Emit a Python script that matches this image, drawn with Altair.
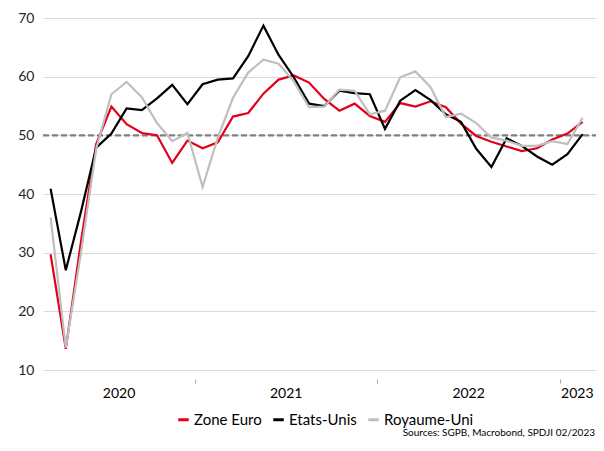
import altair as alt
import pandas as pd

# ---- data (monthly composite PMI, March 2020 -> February 2023) ----
months = pd.date_range("2020-03-01", periods=36, freq="MS")
zone_euro = [29.7, 13.6, 31.9, 48.5, 54.9, 51.9, 50.4, 50.0, 45.3, 49.1,
             47.8, 48.8, 53.2, 53.8, 57.1, 59.5, 60.2, 59.0, 56.2, 54.2, 55.4, 53.3,
             52.3, 55.5, 54.9, 55.8, 54.8, 52.0, 49.9, 48.9, 48.1, 47.3, 47.8, 49.3,
             50.3, 52.3]
etats_unis = [40.9, 27.0, 37.0, 47.9, 50.3, 54.6, 54.3, 56.3, 58.6, 55.3,
              58.7, 59.5, 59.7, 63.5, 68.7, 63.7, 59.9, 55.4, 55.0, 57.6, 57.2, 57.0,
              51.1, 55.9, 57.7, 56.0, 53.6, 52.3, 47.7, 44.6, 49.5, 48.2, 46.4, 45.0,
              46.8, 50.2]
royaume_uni = [36.0, 13.8, 30.0, 47.7, 57.0, 59.1, 56.5, 52.1, 49.0, 50.4,
               41.2, 49.6, 56.4, 60.7, 62.9, 62.2, 59.2, 54.8, 54.9, 57.8, 57.6, 53.6,
               54.2, 59.9, 60.9, 58.2, 53.1, 53.7, 52.1, 49.6, 49.1, 48.2, 48.2, 49.0,
               48.5, 53.0]
series_names = ["Zone Euro", "Etats-Unis", "Royaume-Uni"]
series_colors = ["#E2001A", "#000000", "#BFBFBF"]
years = ["2020", "2021", "2022", "2023"]
year_label_pos = [4.5, 15.5, 27.5, 34.65]
year_boundaries = [9.5, 21.5, 33.5]
y_ticks = [10, 20, 30, 40, 50, 60, 70]
threshold = [50]
source_text = "Sources: SGPB, Macrobond, SPDJI 02/2023"

FONT = "Lato"
PLOT_W = 553
PLOT_H = 352

rows = []
for name, vals in zip(series_names, [zone_euro, etats_unis, royaume_uni]):
    for i, (m, v) in enumerate(zip(months, vals)):
        rows.append({"t": i, "month": m.strftime("%Y-%m"), "series": name, "v": v})
df = pd.DataFrame(rows)
years_df = pd.DataFrame({"t": year_label_pos, "year": years})
thr_df = pd.DataFrame({"v": threshold})
src_df = pd.DataFrame({"txt": [source_text]})

x_scale = alt.Scale(domain=[-0.5, 35.88], nice=False, zero=False)
y_scale = alt.Scale(domain=[10, 70], nice=False, zero=False)
x_axis = alt.Axis(values=year_boundaries, labels=False, domain=False, grid=False,
                  ticks=True, tickSize=4, offset=9, tickColor="#A6A6A6", title=None)
y_axis = alt.Axis(values=y_ticks, grid=True, gridColor="#D9D9D9", gridWidth=1.2,
                  domain=False, ticks=False, labelPadding=9, labelFontSize=14,
                  labelFont=FONT, labelColor="#262626", title=None)

x_enc = alt.X("t:Q", scale=x_scale, axis=x_axis)
y_enc = alt.Y("v:Q", scale=y_scale, axis=y_axis)

color_enc = alt.Color(
    "series:N",
    scale=alt.Scale(domain=series_names, range=series_colors),
    legend=alt.Legend(orient="none", legendX=133, legendY=394, direction="horizontal",
                      symbolType="stroke", symbolStrokeWidth=3, symbolSize=110,
                      labelFontSize=15, labelFont=FONT, labelColor="#000000",
                      title=None, columnPadding=5, labelOffset=3),
)

rule = alt.Chart(thr_df).mark_rule(color="#808080", strokeWidth=2.2, strokeDash=[6, 3]).encode(
    x=alt.value(0), x2=alt.value(PLOT_W), y=y_enc
)

base = alt.Chart(df).mark_line(strokeWidth=2.2).encode(
    x=x_enc, y=y_enc, color=color_enc, order="t:Q"
)
lines = [base.transform_filter(alt.datum.series == n) for n in series_names]

year_text = alt.Chart(years_df).mark_text(fontSize=14, font=FONT, color="#000000").encode(
    x=x_enc, y=alt.value(376), text="year:N"
)

src = alt.Chart(src_df).mark_text(fontSize=10, font=FONT, color="#000000", align="right",
                                  baseline="alphabetic").encode(
    x=alt.value(PLOT_W - 1), y=alt.value(418), text="txt:N"
)

chart = alt.layer(rule, *lines, year_text, src).properties(
    width=PLOT_W, height=PLOT_H,
    padding={"left": 35, "top": 10, "right": 0, "bottom": 68},
    autosize=alt.AutoSizeParams(type="none"),
).configure_view(stroke=None)

chart.save("out.html", embed_options={"renderer": "svg", "actions": False})
